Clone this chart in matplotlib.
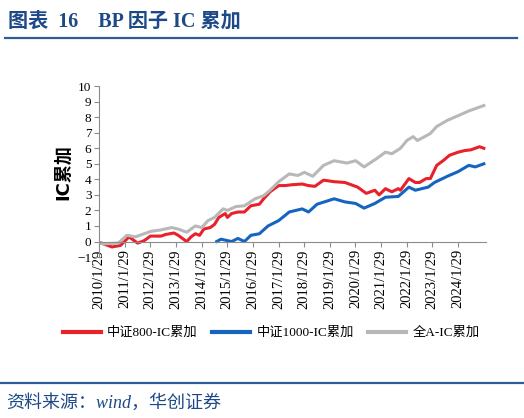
import matplotlib
matplotlib.use('Agg')
import matplotlib.pyplot as plt
import pandas as pd
from matplotlib.lines import Line2D

# values
csi800_dates = ['2010-01','2010-08','2010-12','2011-04','2011-08','2011-11','2012-02','2012-07',
                '2012-09','2013-01','2013-03','2013-07','2013-09','2013-11','2014-01','2014-03',
                '2014-06','2014-08','2014-10','2015-01','2015-02','2015-04','2015-07','2015-10',
                '2016-01','2016-05','2016-07','2016-10','2017-02','2017-05','2017-08','2018-01',
                '2018-04','2018-07','2018-11','2019-04','2019-09','2019-12','2020-03','2020-07',
                '2020-11','2021-01','2021-04','2021-07','2021-10','2021-11','2022-03','2022-06',
                '2022-08','2022-11','2023-01','2023-04','2023-07','2023-10','2024-02','2024-05',
                '2024-08','2024-12','2025-02']
csi800_ic = [0, -0.35, -0.25, 0.3, -0.1, 0.05, 0.35, 0.35,
             0.45, 0.55, 0.4, 0.0, 0.3, 0.5, 0.4, 0.8,
             0.9, 1.1, 1.55, 1.8, 1.55, 1.8, 1.9, 1.9,
             2.3, 2.4, 2.75, 3.2, 3.6, 3.6, 3.65, 3.7,
             3.6, 3.55, 3.95, 3.85, 3.8, 3.65, 3.5, 3.1,
             3.3, 3.0, 3.4, 3.2, 3.4, 3.3, 4.05, 3.8,
             3.8, 4.05, 4.05, 4.9, 5.2, 5.55, 5.75, 5.85,
             5.9, 6.1, 6.0]

csi1000_dates = ['2014-09','2014-11','2015-04','2015-07','2015-10','2016-01','2016-05','2016-09',
                 '2017-02','2017-07','2018-01','2018-04','2018-08','2019-04','2019-09','2020-02',
                 '2020-06','2020-11','2021-04','2021-10','2022-03','2022-06','2022-12','2023-03',
                 '2023-09','2024-02','2024-07','2024-10','2025-02']
csi1000_ic = [0, 0.15, 0.0, 0.2, 0.0, 0.4, 0.5, 1.0,
              1.35, 1.9, 2.1, 1.9, 2.4, 2.75, 2.55, 2.45,
              2.15, 2.45, 2.85, 2.9, 3.5, 3.3, 3.5, 3.8,
              4.2, 4.5, 4.9, 4.8, 5.0]

alla_dates = ['2010-01','2010-04','2010-11','2011-03','2011-07','2011-11','2012-02','2012-07',
              '2012-12','2013-03','2013-07','2013-11','2014-02','2014-05','2014-08','2014-12',
              '2015-02','2015-06','2015-10','2016-03','2016-07','2016-10','2017-02','2017-07',
              '2017-11','2018-02','2018-06','2018-11','2019-04','2019-10','2020-02','2020-06',
              '2020-12','2021-04','2021-07','2021-11','2022-02','2022-05','2022-07','2023-01',
              '2023-04','2023-09','2024-02','2024-07','2024-10','2025-02']
alla_ic = [0, -0.15, -0.1, 0.4, 0.3, 0.5, 0.65, 0.75,
           0.9, 0.8, 0.6, 1.0, 0.9, 1.35, 1.55, 2.1,
           2.0, 2.25, 2.3, 2.75, 2.95, 3.3, 3.85, 4.35,
           4.25, 4.45, 4.2, 4.9, 5.2, 5.05, 5.2, 4.8,
           5.35, 5.75, 5.65, 6.0, 6.5, 6.75, 6.5, 6.95,
           7.4, 7.8, 8.1, 8.4, 8.55, 8.75]

tick_dates = ['%d-01-29' % y for y in range(2010, 2025)]
tick_labels = ['%d/1/29' % y for y in range(2010, 2025)]
series_names = ['中证800-IC累加', '中证1000-IC累加', '全A-IC累加']

red = '#E8212B'
blue = '#1565C0'
gray = '#B8B8B8'
navy = '#1D4A87'
mixed = ['Liberation Serif', 'Noto Sans CJK SC']

fig = plt.figure(figsize=(5.24, 4.18), dpi=100)

fig.text(0.016, 0.948, '图表  16    BP 因子 IC 累加', fontsize=14.5, fontweight='bold',
         color=navy, family=mixed, va='center')
fig.add_artist(Line2D([0.01, 0.987], [0.909, 0.909], color='#2E5C98', lw=1.6))
fig.add_artist(Line2D([0.0, 1.0], [0.083, 0.083], color='#2E5C98', lw=1.6))
fig.text(0.012, 0.036, '资料来源：wind，华创证券', fontsize=13, style='italic',
         color=navy, family=mixed, va='center')

ax = fig.add_axes([0.189, 0.385, 0.738, 0.409])
ax.plot(pd.to_datetime(csi800_dates), csi800_ic, color=red, lw=2.2, label=series_names[0])
ax.plot(pd.to_datetime(csi1000_dates), csi1000_ic, color=blue, lw=2.2, label=series_names[1])
ax.plot(pd.to_datetime(alla_dates), alla_ic, color=gray, lw=2.2, label=series_names[2])

ax.set_ylim(-1, 10)
ax.set_yticks(range(-1, 11))
ax.set_xlim(pd.Timestamp('2010-01-29'), pd.Timestamp('2025-02-28'))
ax.set_xticks(pd.to_datetime(tick_dates))
ax.set_xticklabels(tick_labels)

ax.spines['top'].set_visible(False)
ax.spines['right'].set_visible(False)
ax.spines['bottom'].set_position(('data', 0))
ax.spines['left'].set_color('#8C8C8C')
ax.spines['bottom'].set_color('#8C8C8C')
ax.tick_params(axis='both', color='#8C8C8C', length=3.5, direction='out', pad=2,
               labelsize=9.5, labelfontfamily='Liberation Serif')
ax.tick_params(axis='x', labelrotation=90, labelsize=10.5)
ax.set_ylabel('IC累加', fontsize=13, fontweight='bold', family=['DejaVu Sans', 'Noto Sans CJK SC'],
              labelpad=4)

leg = ax.legend(loc='center', bbox_to_anchor=(0.445, -0.445), ncol=3, frameon=False,
                handlelength=2.9, columnspacing=1.1, handletextpad=0.45,
                prop={'family': mixed, 'size': 9.5})
for h in leg.get_lines():
    h.set_linewidth(3)

fig.savefig('out.png', dpi=100)
